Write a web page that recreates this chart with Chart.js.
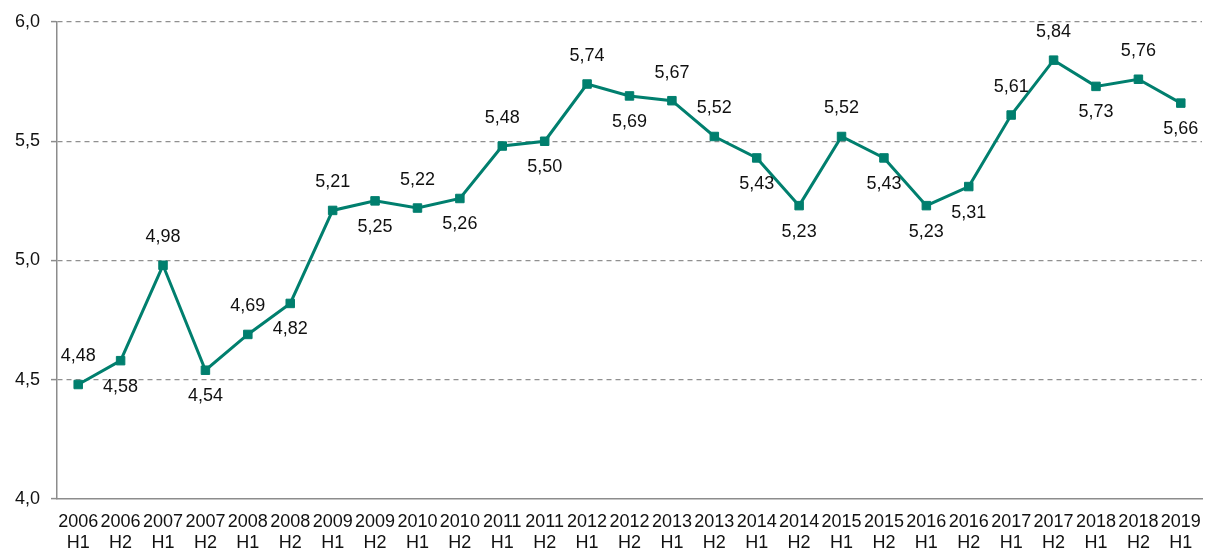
<!DOCTYPE html>
<html>
<head>
<meta charset="utf-8">
<script src="https://cdn.jsdelivr.net/npm/chart.js@4/dist/chart.umd.min.js"></script>
<style>
  html, body { margin: 0; padding: 0; background: #fff; }
  #wrap { width: 1209px; height: 552px; }
</style>
</head>
<body>
<div id="wrap"><canvas id="halfYearChart"></canvas></div>
<script>
// Half-year series, 2006 H1 .. 2019 H1
const years = ['2006', '2006', '2007', '2007', '2008', '2008', '2009', '2009', '2010', '2010',
  '2011', '2011', '2012', '2012', '2013', '2013', '2014', '2014', '2015', '2015',
  '2016', '2016', '2017', '2017', '2018', '2018', '2019'];
const halves = ['H1', 'H2', 'H1', 'H2', 'H1', 'H2', 'H1', 'H2', 'H1', 'H2',
  'H1', 'H2', 'H1', 'H2', 'H1', 'H2', 'H1', 'H2', 'H1', 'H2',
  'H1', 'H2', 'H1', 'H2', 'H1', 'H2', 'H1'];
const values = [4.48, 4.58, 4.98, 4.54, 4.69, 4.82, 5.21, 5.25, 5.22, 5.26,
  5.48, 5.50, 5.74, 5.69, 5.67, 5.52, 5.43, 5.23, 5.52, 5.43,
  5.23, 5.31, 5.61, 5.84, 5.73, 5.76, 5.66];
// which side of the point each value label sits on
const labelSide = ['up', 'down', 'up', 'down', 'up', 'down', 'up', 'down', 'up', 'down',
  'up', 'down', 'up', 'down', 'up', 'up', 'down', 'down', 'up', 'down',
  'down', 'down', 'up', 'up', 'down', 'up', 'down'];

const yTicks = [4.0, 4.5, 5.0, 5.5, 6.0];

const LINE_COLOR = '#007F6E';
const FONT = "'Liberation Sans', Arial, sans-serif";

const fmt = (v, d) => v.toFixed(d).replace('.', ',');

// value labels above / below each point
const valueLabels = {
  id: 'valueLabels',
  afterDatasetsDraw(chart) {
    const ctx = chart.ctx;
    const meta = chart.getDatasetMeta(0);
    ctx.save();
    ctx.font = '18px ' + FONT;
    ctx.fillStyle = '#111';
    ctx.textAlign = 'center';
    ctx.textBaseline = 'middle';
    meta.data.forEach((pt, i) => {
      const dy = labelSide[i] === 'up' ? -28 : 26;
      ctx.fillText(fmt(values[i], 2), pt.x, pt.y + dy);
    });
    ctx.restore();
  }
};

const ctx = document.getElementById('halfYearChart');
new Chart(ctx, {
  type: 'line',
  data: {
    labels: years.map((y, i) => [y, halves[i]]),
    datasets: [{
      data: values,
      borderColor: LINE_COLOR,
      backgroundColor: LINE_COLOR,
      borderWidth: 3,
      tension: 0,
      pointStyle: 'rect',
      pointRadius: 6,
      pointBorderWidth: 1,
      pointBorderColor: LINE_COLOR,
      pointBackgroundColor: LINE_COLOR
    }]
  },
  options: {
    responsive: true,
    maintainAspectRatio: false,
    animation: false,
    layout: { padding: { top: 22, right: -3, left: 0, bottom: 0 } },
    plugins: {
      legend: { display: false },
      tooltip: { enabled: false }
    },
    scales: {
      x: {
        offset: true,
        grid: { display: false, drawTicks: false },
        border: { display: true, color: '#8c8c8c', width: 1.5 },
        ticks: {
          color: '#111',
          font: { family: FONT, size: 18, lineHeight: 1.2 },
          padding: 12,
          maxRotation: 0,
          autoSkip: false
        },
        afterFit(scale) {
          scale.height = 53;
          // labels sit inside their category slots, no overhang room needed
          scale.paddingLeft = 0;
          scale.paddingRight = 0;
        }
      },
      y: {
        min: 4,
        max: 6,
        afterBuildTicks(scale) { scale.ticks = yTicks.map(v => ({ value: v })); },
        grid: {
          color: c => (c.tick && c.tick.value === 4 ? 'rgba(0,0,0,0)' : '#909090'),
          lineWidth: 1.2,
          tickColor: '#8c8c8c',
          tickLength: 6,
          tickWidth: 1.5
        },
        border: { display: true, color: '#8c8c8c', width: 1.5, dash: [5, 4] },
        ticks: {
          color: '#111',
          font: { family: FONT, size: 18 },
          padding: 11,
          callback: v => fmt(v, 1)
        },
        afterFit(scale) { scale.width = 57; }
      }
    }
  },
  plugins: [valueLabels]
});
</script>
</body>
</html>
